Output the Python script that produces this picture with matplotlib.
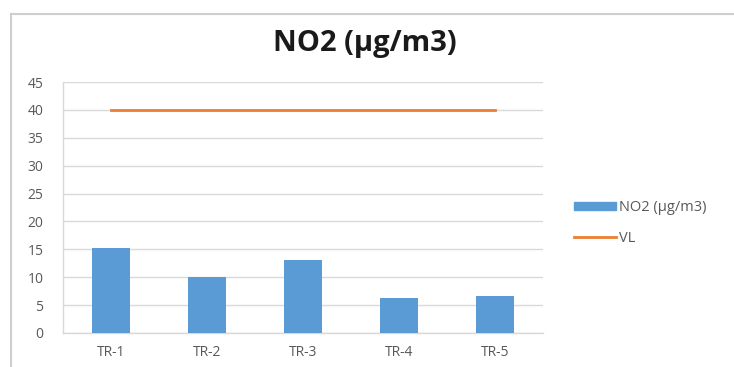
import matplotlib.pyplot as plt
import numpy as np
from matplotlib.lines import Line2D

plt.rcParams['font.family'] = ['Open Sans', 'DejaVu Sans']

# Data
sites = ["TR-1", "TR-2", "TR-3", "TR-4", "TR-5"]
no2 = [15.2, 10.0, 13.0, 6.3, 6.7]
limit = [40, 40, 40, 40, 40]

bar_color = "#5b9bd5"
line_color = "#ed7d31"
grid_color = "#d9d9d9"
text_color = "#595959"

fig = plt.figure(figsize=(7.34, 3.67), dpi=100)
ax = fig.add_axes([63/734, 34/367, 480/734, 251/367])

x = np.arange(len(sites))
ax.bar(x, no2, width=0.4, color=bar_color, label="NO2 (μg/m3)", zorder=3)
ax.plot(x, limit, color=line_color, linewidth=2, label="VL", zorder=4)

ax.set_xlim(-0.5, len(sites) - 0.5)
ax.set_ylim(0, 45)
ax.set_yticks(range(0, 46, 5))
ax.set_xticks(x)
ax.set_xticklabels(sites)
ax.tick_params(axis="both", length=0, labelsize=10, colors=text_color)
ax.tick_params(axis="x", pad=9)
ax.tick_params(axis="y", pad=14)
ax.grid(True, axis="y", color=grid_color, linewidth=1, zorder=0)

for side in ["top", "right"]:
    ax.spines[side].set_visible(False)
for side in ["left", "bottom"]:
    ax.spines[side].set_color(grid_color)
    ax.spines[side].set_linewidth(1)

fig.text(365/734, 1 - 44/367, "NO2 (μg/m3)", ha="center", va="center",
         fontsize=21, fontweight="bold", color="#1a1a1a")

handles = [plt.Rectangle((0, 0), 1, 1, color=bar_color),
           Line2D([0], [0], color=line_color, linewidth=2)]
fig.legend(handles, ["NO2 (μg/m3)", "VL"], loc="center left",
           bbox_to_anchor=(561/734, 1 - 223/367), frameon=False,
           fontsize=10.5, labelcolor=text_color, handlelength=2.9,
           handleheight=0.5, handletextpad=0.2, labelspacing=1.1)

# Outer chart frame (left and top edges)
fig.add_artist(Line2D([11/734, 11/734], [0, 1 - 14/367], color="#cfcfcf",
                      linewidth=1.5, transform=fig.transFigure))
fig.add_artist(Line2D([11/734, 1], [1 - 14/367, 1 - 14/367], color="#cfcfcf",
                      linewidth=1.5, transform=fig.transFigure))

fig.savefig("out.png", dpi=100)
